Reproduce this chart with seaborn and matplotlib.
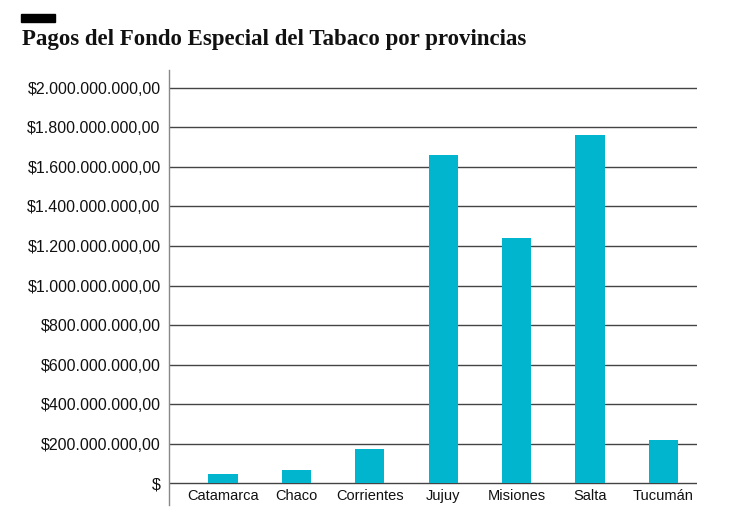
import matplotlib
matplotlib.use("Agg")
import matplotlib.pyplot as plt
import matplotlib.ticker as mticker
import seaborn as sns
import pandas as pd

# Datos (pesos)
provincias = ["Catamarca", "Chaco", "Corrientes", "Jujuy", "Misiones", "Salta", "Tucumán"]
pagos = [47_000_000, 68_000_000, 173_000_000, 1_663_000_000, 1_238_000_000, 1_762_000_000, 219_000_000]
y_ticks = list(range(0, 2_000_000_001, 200_000_000))

df = pd.DataFrame({"provincia": provincias, "pago": pagos})

sns.set_theme(style="white")
plt.rcParams["font.family"] = ["Liberation Sans", "DejaVu Sans"]

fig = plt.figure(figsize=(7.39, 5.18), dpi=100)
ax = fig.add_axes([0.2287, 0.0251, 0.714, 0.8398])

sns.barplot(data=df, x="provincia", y="pago", color="#00B5CD", width=0.4,
            saturation=1, linewidth=0, ax=ax, zorder=3)

ax.set_xlim(-0.736, 6.454)
ax.set_ylim(-111_000_000, 2_091_000_000)
ax.set_yticks(y_ticks)


def fmt_pesos(v, pos):
    if v == 0:
        return "$"
    s = f"{v:,.2f}".replace(",", "X").replace(".", ",").replace("X", ".")
    return "$" + s


ax.yaxis.set_major_formatter(mticker.FuncFormatter(fmt_pesos))
ax.grid(axis="y", color="#444444", linewidth=1.0, zorder=0)
ax.grid(axis="x", visible=False)

for side in ["top", "right", "bottom"]:
    ax.spines[side].set_visible(False)
ax.spines["left"].set_color("#888888")
ax.spines["left"].set_linewidth(1.0)

ax.tick_params(axis="y", length=0, pad=6, labelsize=11.5, labelcolor="#111111")
ax.tick_params(axis="x", length=0, pad=-11.5, labelsize=10.5, labelcolor="#111111")
ax.set_xlabel("")
ax.set_ylabel("")

# Titulo y barra negra decorativa
fig.text(22 / 739, 1 - 40 / 518, "Pagos del Fondo Especial del Tabaco por provincias",
         fontsize=16.5, fontweight="bold", family="Liberation Serif",
         va="center", ha="left", color="#111111")
fig.patches.append(plt.Rectangle((21 / 739, 1 - 22 / 518), 34 / 739, 8 / 518,
                                 transform=fig.transFigure, color="black"))

fig.savefig("out.png", dpi=100)
